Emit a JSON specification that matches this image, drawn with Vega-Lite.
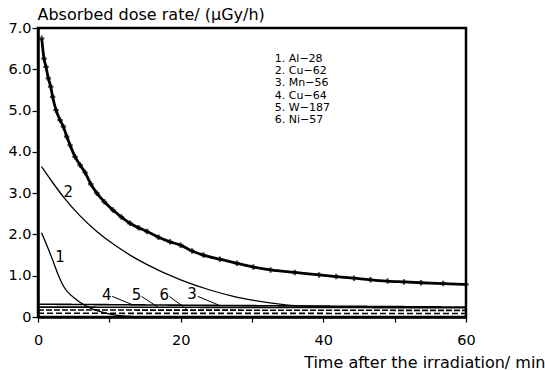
{
  "$schema": "https://vega.github.io/schema/vega-lite/v6.json",
  "width": 428,
  "height": 289,
  "autosize": {"type": "none"},
  "padding": {"left": 38, "top": 28, "right": 79, "bottom": 53},
  "background": "white",
  "config": {
    "view": {"stroke": "black", "strokeWidth": 2.5},
    "font": "DejaVu Sans",
    "axis": {"grid": false, "domainColor": "black", "domainWidth": 2.5, "tickColor": "black", "tickWidth": 1.2, "labelColor": "black", "titleColor": "black", "labelFont": "DejaVu Sans", "titleFont": "DejaVu Sans", "titleFontWeight": "normal", "labelFontSize": 14.5, "titleFontSize": 16}
  },
  "datasets": {
    "total": [
      {"t": 0.52, "v": 6.75}, {"t": 0.84, "v": 6.26}, {"t": 1.12, "v": 6.06}, {"t": 1.45, "v": 5.78},
      {"t": 1.78, "v": 5.58}, {"t": 2.06, "v": 5.33}, {"t": 2.53, "v": 5.01}, {"t": 3.09, "v": 4.77},
      {"t": 3.56, "v": 4.61}, {"t": 4.03, "v": 4.37}, {"t": 4.5, "v": 4.16}, {"t": 5.2, "v": 3.88},
      {"t": 5.9, "v": 3.68}, {"t": 6.6, "v": 3.5}, {"t": 7.4, "v": 3.22}, {"t": 8.25, "v": 3.0},
      {"t": 9.3, "v": 2.79}, {"t": 10.5, "v": 2.59}, {"t": 11.7, "v": 2.42}, {"t": 12.9, "v": 2.27},
      {"t": 14.1, "v": 2.16}, {"t": 15.3, "v": 2.07}, {"t": 16.9, "v": 1.93}, {"t": 18.5, "v": 1.82},
      {"t": 20, "v": 1.74}, {"t": 21.6, "v": 1.6}, {"t": 23.2, "v": 1.5}, {"t": 25.5, "v": 1.4},
      {"t": 27.9, "v": 1.3}, {"t": 30.2, "v": 1.21}, {"t": 32.6, "v": 1.14}, {"t": 36, "v": 1.08},
      {"t": 39.4, "v": 1.02}, {"t": 41.8, "v": 0.98}, {"t": 44.3, "v": 0.94}, {"t": 46.6, "v": 0.9},
      {"t": 49, "v": 0.87}, {"t": 51.3, "v": 0.85}, {"t": 53.7, "v": 0.83}, {"t": 56.8, "v": 0.81},
      {"t": 60, "v": 0.79}
    ],
    "cu62": [
      {"t": 0.5, "v": 3.64}, {"t": 2, "v": 3.27}, {"t": 3.56, "v": 2.91}, {"t": 5.9, "v": 2.45},
      {"t": 8.25, "v": 2.07}, {"t": 10.6, "v": 1.76}, {"t": 12.9, "v": 1.5}, {"t": 15.3, "v": 1.27},
      {"t": 20, "v": 0.9}, {"t": 24, "v": 0.66}, {"t": 27.4, "v": 0.5}, {"t": 30, "v": 0.41},
      {"t": 35, "v": 0.29}, {"t": 38, "v": 0.26}, {"t": 42, "v": 0.25}
    ],
    "al28": [
      {"t": 0.5, "v": 2.04}, {"t": 1.9, "v": 1.45}, {"t": 2.7, "v": 1.08}, {"t": 3.56, "v": 0.75},
      {"t": 5.4, "v": 0.42}, {"t": 7.3, "v": 0.22}, {"t": 10.1, "v": 0.07}, {"t": 13.4, "v": 0.01}
    ],
    "flat": [
      {"s": "Mn-56", "t": 0, "v": 0.31}, {"s": "Mn-56", "t": 60, "v": 0.24},
      {"s": "Cu-64", "t": 0, "v": 0.24}, {"s": "Cu-64", "t": 60, "v": 0.225},
      {"s": "W-187", "t": 0, "v": 0.17}, {"s": "W-187", "t": 60, "v": 0.16},
      {"s": "Ni-57", "t": 0, "v": 0.09}, {"s": "Ni-57", "t": 60, "v": 0.085}
    ],
    "curvelabels": [
      {"t": 4.26, "v": 3.03, "label": "2"}, {"t": 3.1, "v": 1.46, "label": "1"},
      {"t": 9.65, "v": 0.54, "label": "4"}, {"t": 13.8, "v": 0.54, "label": "5"},
      {"t": 17.7, "v": 0.54, "label": "6"}, {"t": 21.6, "v": 0.56, "label": "3"}
    ],
    "leaders": [
      {"t": 10.4, "v": 0.5, "t2": 13.2, "v2": 0.3},
      {"t": 14.5, "v": 0.5, "t2": 16.8, "v2": 0.24},
      {"t": 18.4, "v": 0.5, "t2": 21.0, "v2": 0.17},
      {"t": 22.4, "v": 0.5, "t2": 25.3, "v2": 0.29}
    ],
    "legend": [
      {"t": 33.2, "v": 6.26, "label": "1. Al−28"},
      {"t": 33.2, "v": 5.96, "label": "2. Cu−62"},
      {"t": 33.2, "v": 5.66, "label": "3. Mn−56"},
      {"t": 33.2, "v": 5.36, "label": "4. Cu−64"},
      {"t": 33.2, "v": 5.06, "label": "5. W−187"},
      {"t": 33.2, "v": 4.76, "label": "6. Ni−57"}
    ]
  },
  "encoding": {
    "x": {"field": "t", "type": "quantitative", "scale": {"domain": [0, 60], "nice": false},
      "axis": {"values": [0, 10, 20, 30, 40, 50, 60], "labelExpr": "datum.value % 20 == 0 ? datum.label : ''", "tickSize": 5, "labelPadding": 11, "labelFlush": false,
        "title": "Time after the irradiation/ min", "titleX": 507, "titleY": 45, "titleAlign": "right", "titleBaseline": "middle", "titleAnchor": null}},
    "y": {"field": "v", "type": "quantitative", "scale": {"domain": [0, 7], "nice": false},
      "axis": {"values": [0, 1, 2, 3, 4, 5, 6, 7], "labelExpr": "datum.value == 0 ? '0' : format(datum.value, '.1f')", "tickSize": 6, "labelPadding": 1, "labelFlush": false,
        "title": "Absorbed dose rate/ (μGy/h)", "titleAngle": 0, "titleX": -1, "titleY": -14, "titleAlign": "left", "titleBaseline": "middle", "titleAnchor": null}}
  },
  "layer": [
    {"data": {"name": "flat"}, "mark": {"type": "line", "color": "black", "strokeWidth": 1.6},
      "encoding": {"detail": {"field": "s"},
        "strokeDash": {"field": "s", "type": "nominal", "legend": null, "scale": {"domain": ["Mn-56", "Cu-64", "W-187", "Ni-57"], "range": [[1, 0], [1, 0], [6, 2], [6, 3]]}}}},
    {"data": {"name": "al28"}, "mark": {"type": "line", "color": "black", "strokeWidth": 1.3, "interpolate": "monotone"}, "encoding": {}},
    {"data": {"name": "cu62"}, "mark": {"type": "line", "color": "black", "strokeWidth": 1.3, "interpolate": "monotone"}, "encoding": {}},
    {"data": {"name": "total"}, "mark": {"type": "line", "color": "black", "strokeWidth": 2.8, "interpolate": "monotone"}, "encoding": {}},
    {"data": {"name": "total"}, "mark": {"type": "point", "shape": "cross", "color": "black", "filled": true, "size": 30}, "encoding": {}},
    {"data": {"name": "curvelabels"}, "mark": {"type": "text", "fontSize": 15, "color": "black", "align": "center", "baseline": "middle"}, "encoding": {"text": {"field": "label"}}},
    {"data": {"name": "leaders"}, "mark": {"type": "rule", "color": "black", "strokeWidth": 1}, "encoding": {"x2": {"field": "t2"}, "y2": {"field": "v2"}}},
    {"data": {"name": "legend"}, "mark": {"type": "text", "fontSize": 11, "color": "black", "align": "left", "baseline": "middle"}, "encoding": {"text": {"field": "label"}}}
  ]
}
